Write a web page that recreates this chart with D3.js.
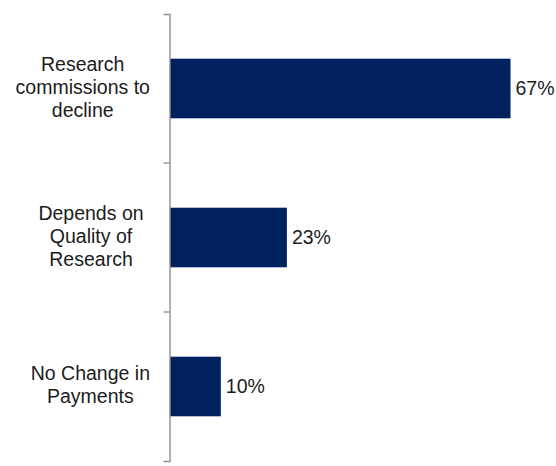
<!DOCTYPE html>
<html>
<head>
<meta charset="utf-8">
<script src="https://cdn.jsdelivr.net/npm/d3@7"></script>
<style>
  html, body { margin: 0; padding: 0; background: #fff; }
  svg { display: block; }
</style>
</head>
<body>
<svg id="chart" width="556" height="466"></svg>
<script>
// Survey responses: expected change in research payments
const categories = [
  ["Research", "commissions to", "decline"],
  ["Depends on", "Quality of", "Research"],
  ["No Change in", "Payments"]
];
const values = [67, 23, 10];
const valueLabels = ["67%", "23%", "10%"];

const svg = d3.select("#chart");
const axisX = 170;
const plotTop = 14, plotBottom = 461;
const barColor = "#00215d";
const textColor = "#1c1c1c";
const fontFamily = "'Liberation Sans', Arial, sans-serif";

const keys = categories.map((c, i) => "c" + i);

const y = d3.scaleBand()
  .domain(keys)
  .range([plotTop, plotBottom])
  .paddingInner(0.6)
  .paddingOuter(0.3);

const x = d3.scaleLinear()
  .domain([0, 67])
  .range([axisX, 510.5]);

// bars
svg.append("g").selectAll("rect")
  .data(values)
  .join("rect")
  .attr("x", x(0))
  .attr("y", (d, i) => y(keys[i]))
  .attr("width", d => x(d) - x(0))
  .attr("height", y.bandwidth())
  .attr("fill", barColor);

// value labels
svg.append("g").selectAll("text")
  .data(values)
  .join("text")
  .attr("x", d => x(d) + 5)
  .attr("y", (d, i) => y(keys[i]) + y.bandwidth() / 2)
  .attr("dy", "0.35em")
  .attr("font-family", fontFamily)
  .attr("font-size", "19.5px")
  .attr("fill", textColor)
  .text((d, i) => valueLabels[i]);

// category axis: vertical line with ticks between categories
const axis = d3.axisLeft(y).tickValues([]).tickSizeOuter(6);
const gAxis = svg.append("g")
  .attr("transform", `translate(${axisX - 0.5},0)`)
  .call(axis);
gAxis.select(".domain").attr("stroke", "#8f8f8f").attr("stroke-width", 1.4);

const step = y.step();
const boundaries = keys.slice(0, -1).map(k => y(k) + y.bandwidth() + step * y.paddingInner() / 2);
gAxis.selectAll("line.sep")
  .data(boundaries)
  .join("line")
  .attr("class", "sep")
  .attr("x1", -6).attr("x2", 0)
  .attr("y1", d => d).attr("y2", d => d)
  .attr("stroke", "#8f8f8f")
  .attr("stroke-width", 1.4);

// multi-line category labels, centred, kept clear of the axis
const lineHeight = 23.3;
const labelCenter = 91, labelRightLimit = 150;
const gLabels = svg.append("g")
  .attr("font-family", fontFamily)
  .attr("font-size", "19.5px")
  .attr("fill", textColor)
  .attr("text-anchor", "middle");

categories.forEach((lines, i) => {
  const t = gLabels.append("text");
  const cy = y(keys[i]) + y.bandwidth() / 2 - 1.5;
  const startY = cy - (lines.length - 1) * lineHeight / 2;
  lines.forEach((ln, j) => {
    t.append("tspan")
      .attr("x", 0)
      .attr("y", startY + j * lineHeight)
      .attr("dy", "0.35em")
      .text(ln);
  });
  const w = t.node().getBBox().width;
  const cx = Math.min(labelCenter, labelRightLimit - w / 2);
  t.selectAll("tspan").attr("x", cx);
});
</script>
</body>
</html>
